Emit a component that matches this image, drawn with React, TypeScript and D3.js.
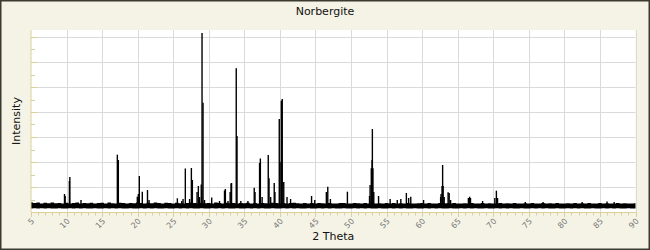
import React from "react";
import * as d3 from "d3";

// ---------- data ----------
const title = "Norbergite";
const xLabel = "2 Theta";
const yLabel = "Intensity";
const xDomain = [5, 90];
const yDomain = [0, 1820];
const xTickValues = [5, 10, 15, 20, 25, 30, 35, 40, 45, 50, 55, 60, 65, 70, 75, 80, 85, 90];

// background noise: upper envelope every 0.5 deg from 5 to 90, lower floor
const noiseStart = 5;
const noiseStep = 0.5;
const noiseUpper = [
  98, 90, 95, 86, 93, 88, 96, 87, 91, 84, 93, 86, 90, 95, 85, 91, 87, 93, 84, 89,
  92, 86, 95, 88, 85, 93, 89, 84, 91, 87, 95, 90, 85, 92, 88, 95, 91, 86, 93, 89,
  85, 92, 88, 84, 91, 95, 89, 86, 93, 88, 91, 85, 95, 89, 86, 93, 88, 91, 84, 90,
  88, 93, 86, 89, 84, 91, 88, 85, 93, 89, 86, 91, 84, 89, 93, 88, 85, 91, 86, 89,
  84, 91, 88, 85, 90, 86, 84, 89, 91, 86, 85, 90, 88, 84, 89, 86, 91, 85, 88, 84,
  89, 86, 90, 84, 88, 85, 89, 86, 84, 88, 91, 85, 89, 84, 86, 90, 85, 88, 84, 89,
  86, 84, 88, 85, 90, 86, 84, 89, 85, 88, 84, 86, 90, 85, 88, 84, 89, 86, 85, 88,
  84, 89, 86, 85, 90, 84, 88, 86, 89, 85, 84, 88, 86, 90, 85, 88, 84, 89, 86, 85,
  89, 84, 88, 86, 85, 89, 84, 88, 86, 85, 88,
];
const noiseLower = [36, 38, 35, 37, 36, 38, 36, 35, 37, 36];

// peaks: 2theta position and intensity
const peakTheta = [
  9.71, 9.8, 10.4, 10.46, 12.03, 17.14, 17.28, 19.95, 20.1, 20.23, 20.65, 21.38, 21.6,
  25.58, 26.2, 26.38, 26.7, 27.3, 27.55, 27.69, 28.35, 28.53, 28.7, 28.94, 29.05, 29.19,
  29.4, 30.41, 31.5, 32.21, 32.33, 32.7, 33.0, 33.13, 33.2, 33.86, 33.97, 34.5, 35.5,
  36.39, 36.5, 37.14, 37.25, 37.5, 38.36, 38.47, 38.7, 39.2, 39.3, 39.91, 40.02, 40.2,
  40.33, 40.54, 41.0, 41.5, 44.45, 44.9, 46.53, 46.73, 47.1, 49.49, 52.6, 52.68, 52.85,
  52.96, 53.0, 53.08, 53.2, 53.87, 55.5, 56.5, 57.0, 57.78, 58.1, 58.4, 60.2, 62.6,
  62.66, 62.8, 62.88, 62.95, 63.1, 63.65, 63.8, 64.0, 66.5, 66.67, 66.8, 68.5, 70.22,
  70.44, 70.6, 74.5, 77.0, 82.5, 86.0, 87.0,
];
const peakIntensity = [
  180, 160, 310, 350, 120, 573, 520, 153, 180, 360, 203, 220, 120,
  137, 110, 130, 435, 130, 440, 320, 200, 260, 150, 275, 1790, 1093,
  120, 145, 110, 215, 230, 110, 200, 285, 290, 1437, 760, 110, 110,
  243, 200, 490, 535, 150, 570, 337, 150, 290, 200, 930, 503, 1113,
  1130, 300, 150, 130, 160, 120, 200, 253, 130, 203, 160, 270, 437,
  520, 830, 437, 200, 160, 130, 120, 130, 190, 140, 153, 120, 150,
  180, 260, 470, 260, 150, 197, 190, 120, 140, 153, 140, 110, 140,
  213, 140, 100, 100, 100, 105, 100,
];

// ---------- chart ----------
const W = 650;
const H = 250;
const plot = { left: 31, right: 635.5, top: 30, bottom: 212 };

export default function App() {
  const x = d3.scaleLinear().domain(xDomain).range([plot.left, plot.right]);
  const y = d3.scaleLinear().domain(yDomain).range([plot.bottom, plot.top]);

  const yGrid = d3.range(250, yDomain[1], 250);
  const yMinor = d3.range(125, yDomain[1], 125).filter((v) => v % 250 !== 0);
  const xMinor = d3.range(xDomain[0], xDomain[1] + 0.001, 1).filter((v) => v % 5 !== 0);

  const noisePts = noiseUpper.map((u, i) => ({
    t: noiseStart + i * noiseStep,
    u,
    l: noiseLower[i % noiseLower.length],
  }));
  const area = d3
    .area<{ t: number; u: number; l: number }>()
    .x((d) => x(d.t))
    .y0((d) => y(d.l))
    .y1((d) => y(d.u))
    .curve(d3.curveStep);

  const axisColor = "#d9d198";
  const gridColor = "#dadada";
  const font = "DejaVu Sans, Verdana, sans-serif";

  return (
    <div style={{ position: "fixed", left: 0, top: 0 }}>
      <svg width={W} height={H} style={{ display: "block" }}>
        <rect x={0.75} y={0.75} width={W - 1.5} height={H - 1.5} fill="#f5f3e5" stroke="#3b3a30" strokeWidth={1.5} />
        <rect x={plot.left} y={plot.top} width={plot.right - plot.left} height={plot.bottom - plot.top} fill="#ffffff" />
        {/* grid */}
        {yGrid.map((v) => (
          <line key={"gy" + v} x1={plot.left} x2={plot.right} y1={Math.round(y(v)) + 0.5} y2={Math.round(y(v)) + 0.5} stroke={gridColor} strokeWidth={1} />
        ))}
        {xTickValues.slice(1).map((v) => (
          <line key={"gx" + v} x1={Math.round(x(v)) + 0.5} x2={Math.round(x(v)) + 0.5} y1={plot.top} y2={plot.bottom} stroke={gridColor} strokeWidth={1} />
        ))}
        {/* noise band */}
        <path d={area(noisePts) || ""} fill="#000" />
        {/* peaks */}
        {peakTheta.map((t, i) => (
          <line key={"p" + i} x1={x(t)} x2={x(t)} y1={y(60)} y2={y(peakIntensity[i])} stroke="#000" strokeWidth={1.4} />
        ))}
        {/* axes */}
        <line x1={plot.left} x2={plot.left} y1={plot.top} y2={plot.bottom} stroke={axisColor} strokeWidth={1} />
        <line x1={plot.left} x2={plot.right} y1={plot.bottom + 0.5} y2={plot.bottom + 0.5} stroke={axisColor} strokeWidth={1} />
        {yGrid.map((v) => (
          <line key={"ty" + v} x1={plot.left} x2={plot.left + 6} y1={Math.round(y(v)) + 0.5} y2={Math.round(y(v)) + 0.5} stroke={axisColor} strokeWidth={1} />
        ))}
        {yMinor.map((v) => (
          <line key={"tym" + v} x1={plot.left} x2={plot.left + 4} y1={Math.round(y(v)) + 0.5} y2={Math.round(y(v)) + 0.5} stroke={axisColor} strokeWidth={1} />
        ))}
        {xTickValues.map((v) => (
          <line key={"tx" + v} x1={Math.round(x(v)) + 0.5} x2={Math.round(x(v)) + 0.5} y1={plot.bottom} y2={plot.bottom + 5} stroke={axisColor} strokeWidth={1} />
        ))}
        {xMinor.map((v) => (
          <line key={"txm" + v} x1={Math.round(x(v)) + 0.5} x2={Math.round(x(v)) + 0.5} y1={plot.bottom} y2={plot.bottom + 3.5} stroke={axisColor} strokeWidth={1} />
        ))}
        {xTickValues.map((v) => (
          <text
            key={"lx" + v}
            transform={`translate(${x(v) + 2},${plot.bottom + 8}) rotate(-45)`}
            textAnchor="end"
            dominantBaseline="middle"
            fontFamily={font}
            fontSize={8}
            fill="#777"
          >
            {v}
          </text>
        ))}
        {/* titles */}
        <text x={W / 2} y={15} textAnchor="middle" fontFamily={font} fontSize={11} fill="#111">
          {title}
        </text>
        <text x={(plot.left + plot.right) / 2} y={240} textAnchor="middle" fontFamily={font} fontSize={11} fill="#111">
          {xLabel}
        </text>
        <text transform={`translate(20,${(plot.top + plot.bottom) / 2}) rotate(-90)`} textAnchor="middle" fontFamily={font} fontSize={11} fill="#111">
          {yLabel}
        </text>
      </svg>
    </div>
  );
}
